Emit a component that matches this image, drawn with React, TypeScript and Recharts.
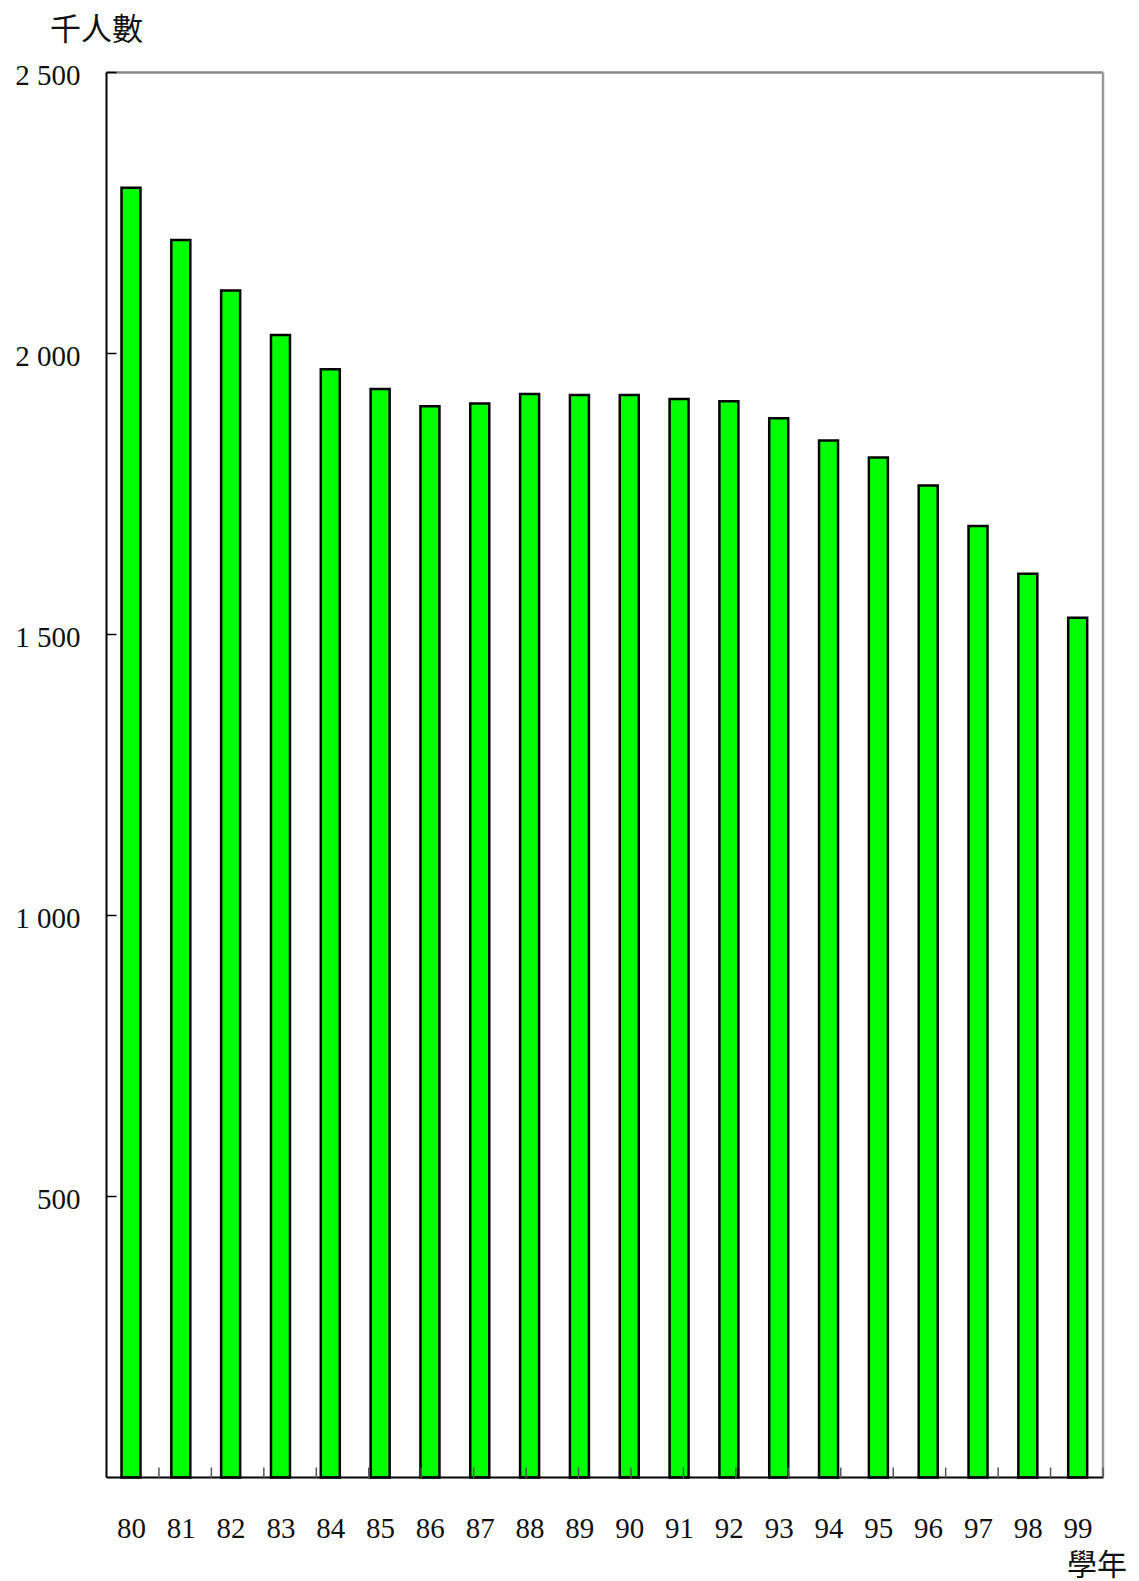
import { BarChart, Bar, XAxis, YAxis } from "recharts";

const years = [
  "80", "81", "82", "83", "84", "85", "86", "87", "88", "89",
  "90", "91", "92", "93", "94", "95", "96", "97", "98", "99",
];
// 千人數 per 學年
const students = [
  2295, 2202, 2112, 2033, 1972, 1937, 1906, 1911, 1928, 1926,
  1926, 1919, 1915, 1885, 1845, 1815, 1765, 1693, 1608, 1530,
];
const yTicks = [500, 1000, 1500, 2000, 2500];
// borders between years; the two outer ones fall on the frame
const yearEdges = [0, 1, 2, 3, 4, 5, 6, 7, 8, 9, 10, 11, 12, 13, 14, 15, 16, 17, 18, 19, 20];

const data = years.map((year, i) => ({ year, students: students[i] }));

const numFont = "'Liberation Serif', 'Times New Roman', serif";
const cjkFont = "'Noto Sans CJK TC', 'Noto Sans CJK SC', sans-serif";

const fmt = (v: number) => {
  const s = String(v);
  return s.length > 3 ? s.slice(0, -3) + " " + s.slice(-3) : s;
};

const YTick = (props: any) => {
  const { x, y, payload } = props;
  return (
    <text
      x={x}
      y={y + 2}
      textAnchor="end"
      dominantBaseline="central"
      fontFamily={numFont}
      fontSize={29}
      fill="#111"
    >
      {fmt(payload.value)}
    </text>
  );
};

const XTick = (props: any) => {
  const { x, y, payload } = props;
  return (
    <text
      x={x}
      y={y + 50}
      textAnchor="middle"
      dominantBaseline="central"
      fontFamily={numFont}
      fontSize={29}
      fill="#111"
    >
      {payload.value}
    </text>
  );
};

const EdgeTick = (props: any) => {
  const { x, y, payload } = props;
  const v = payload.value;
  if (v === yearEdges[0] || v === yearEdges[yearEdges.length - 1]) return <g />;
  return <line x1={x} x2={x} y1={y} y2={y - 11} stroke="#555" strokeWidth={1.5} />;
};

export default function App() {
  return (
    <div style={{ position: "absolute", left: 0, top: 0, width: 1139, height: 1581, background: "#fff" }}>
      <div
        style={{
          position: "absolute",
          left: 50,
          top: 11,
          fontFamily: cjkFont,
          fontSize: 31,
          lineHeight: "32px",
          color: "#111",
        }}
      >
        千人數
      </div>
      <div
        style={{
          position: "absolute",
          left: 1067,
          top: 1547,
          fontFamily: cjkFont,
          fontSize: 30,
          lineHeight: "30px",
          color: "#111",
        }}
      >
        學年
      </div>
      <BarChart
        width={1139}
        height={1581}
        data={data}
        margin={{ top: 71.5, right: 35, bottom: 101.5, left: 6.5 }}
        barCategoryGap={0}
      >
        <XAxis
          xAxisId="top"
          orientation="top"
          dataKey="year"
          height={1}
          tick={false}
          tickLine={false}
          axisLine={{ stroke: "#888", strokeWidth: 2.5 }}
        />
        <YAxis
          yAxisId="right"
          orientation="right"
          width={1}
          domain={[0, 2500]}
          tick={false}
          tickLine={false}
          axisLine={{ stroke: "#999", strokeWidth: 2.5 }}
        />
        <Bar
          dataKey="students"
          fill="#00ff00"
          stroke="#000"
          strokeWidth={2.5}
          barSize={19}
          isAnimationActive={false}
        />
        <XAxis
          dataKey="year"
          interval={0}
          height={1}
          tickSize={0}
          tickMargin={0}
          tickLine={false}
          tick={<XTick />}
          axisLine={{ stroke: "#000", strokeWidth: 2 }}
        />
        <XAxis
          xAxisId="edges"
          type="number"
          domain={[0, 20]}
          allowDataOverflow
          ticks={yearEdges}
          interval={0}
          height={1}
          tickSize={0}
          tickMargin={0}
          tickLine={false}
          tick={<EdgeTick />}
          axisLine={false}
        />
        <YAxis
          width={100}
          domain={[0, 2500]}
          ticks={yTicks}
          interval={0}
          tickSize={-10}
          tickMargin={36}
          tickLine={{ stroke: "#000", strokeWidth: 1.5 }}
          tick={<YTick />}
          axisLine={{ stroke: "#000", strokeWidth: 2 }}
        />
      </BarChart>
    </div>
  );
}
